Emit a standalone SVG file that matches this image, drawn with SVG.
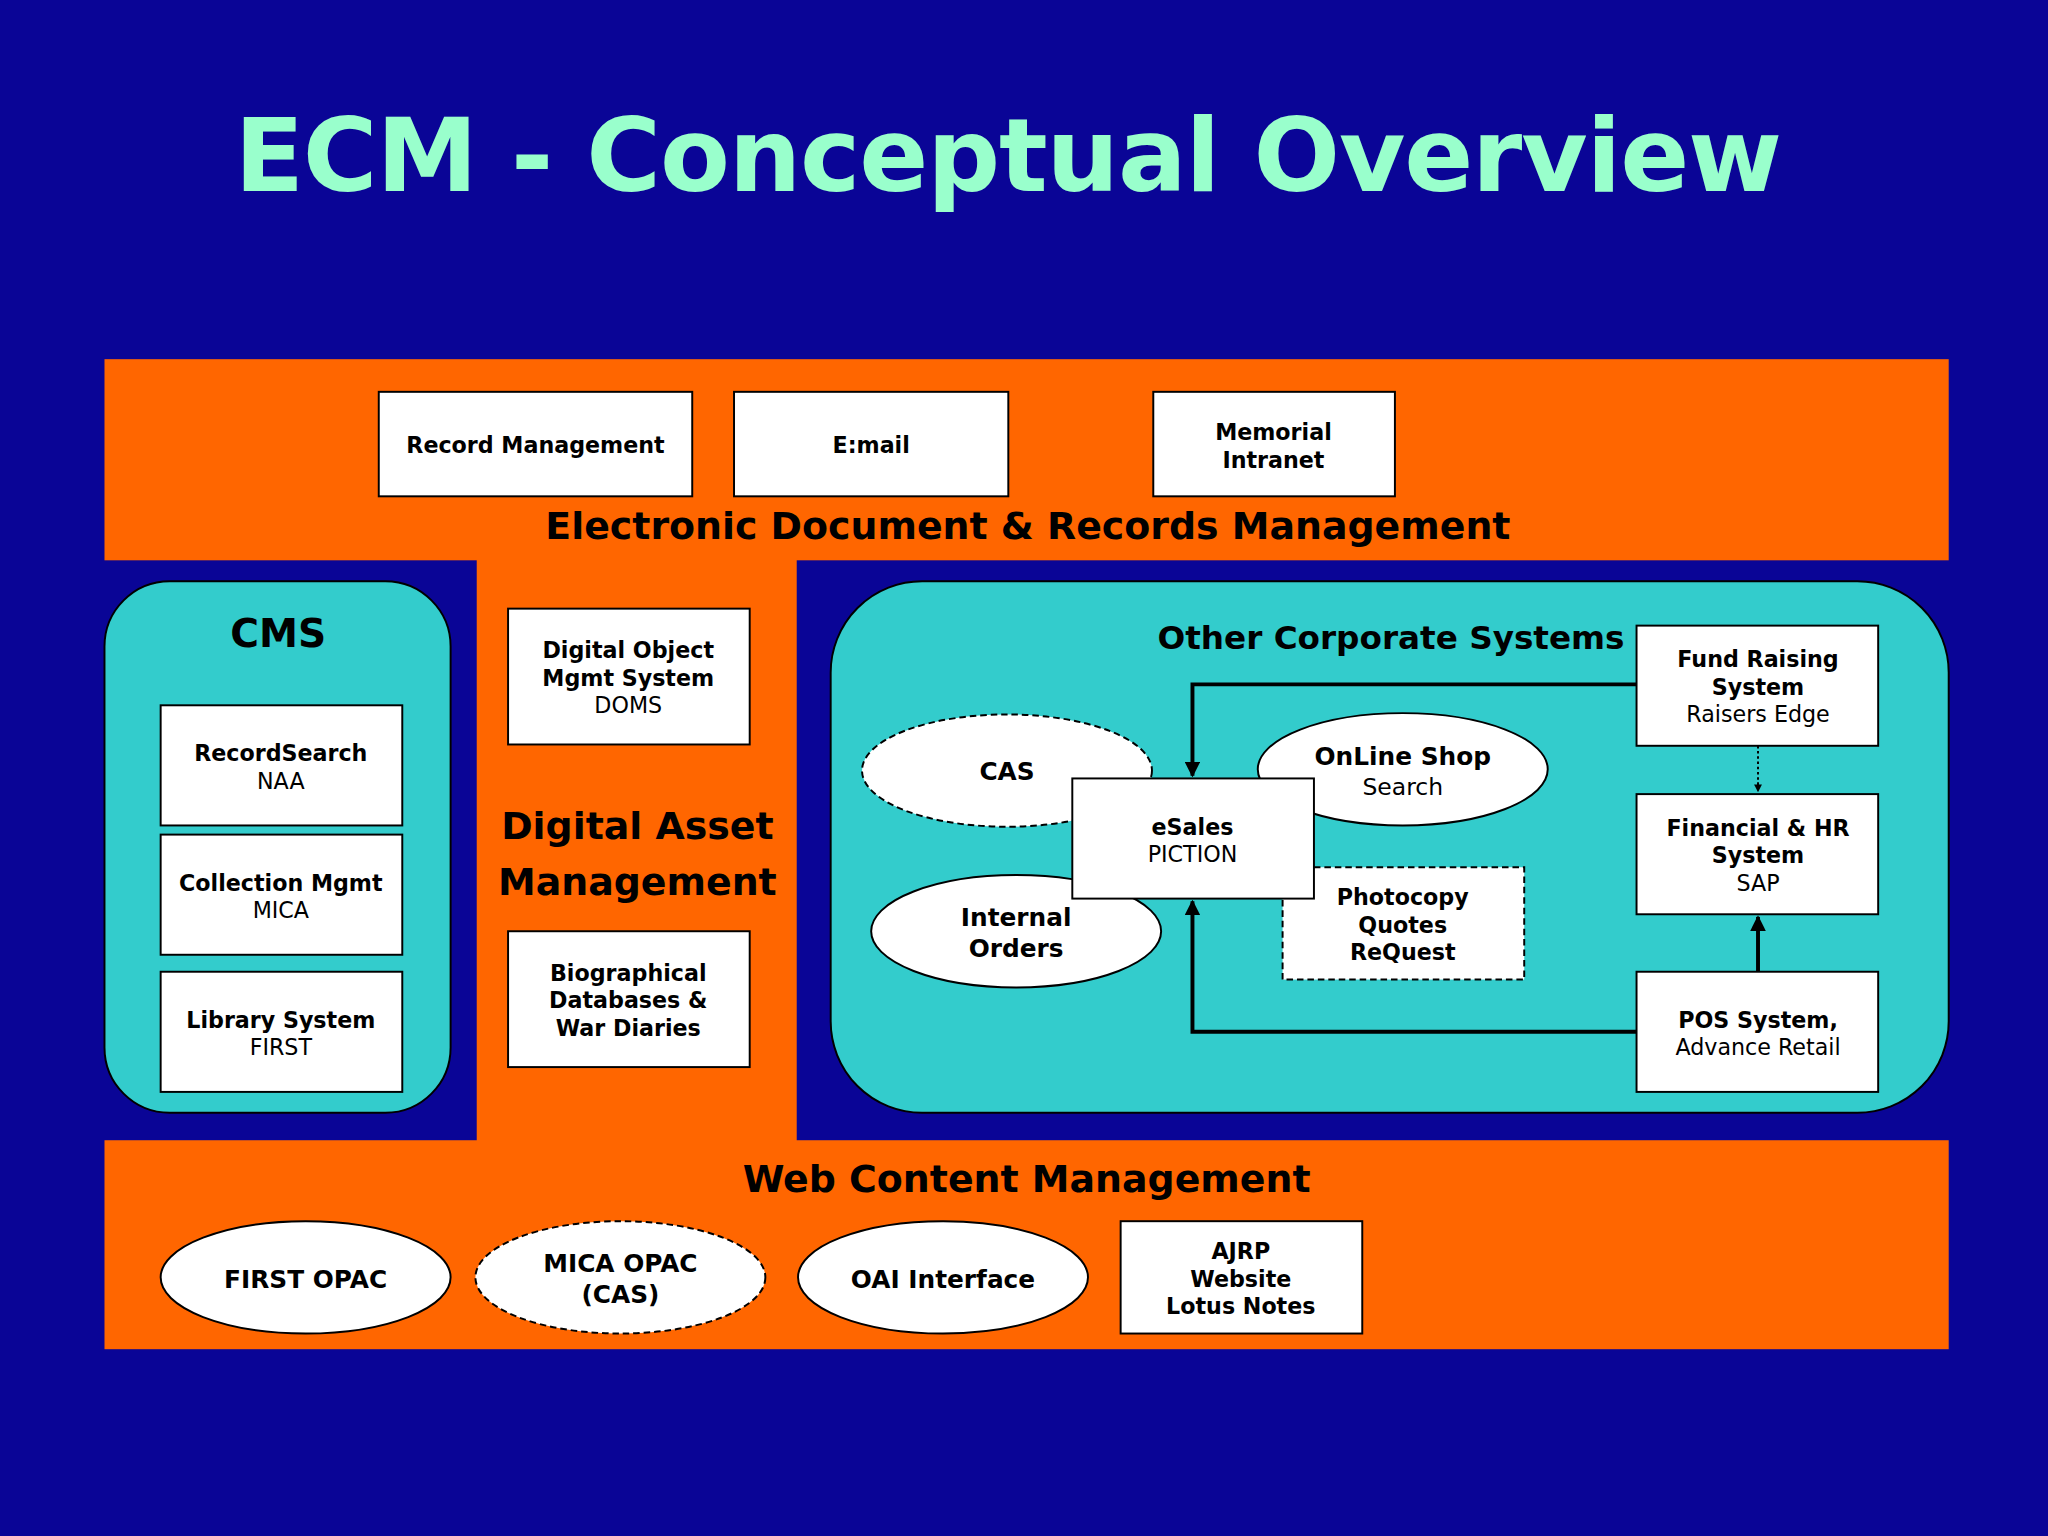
<svg xmlns="http://www.w3.org/2000/svg" width="2048" height="1536" viewBox="0 0 2048 1536">
<defs>
<style>
.t{font-family:"DejaVu Sans",Verdana,sans-serif;text-anchor:middle;fill:#000}
.b{font-weight:bold}
.box{fill:#fff;stroke:#000;stroke-width:1.5}
.dash{stroke-dasharray:5 3}
.ln{fill:none;stroke:#000;stroke-width:3}
.orng{fill:#ff6600}
.teal{fill:#33cccc;stroke:#000;stroke-width:1.5}
</style>
<marker id="ar" viewBox="0 0 10 10" refX="9" refY="5" markerWidth="4" markerHeight="4" orient="auto"><path d="M0,0L10,5L0,10z" fill="#000"/></marker>
</defs>
<rect width="2048" height="1536" fill="#0a0596"/>
<g transform="scale(1.3061)">
<text x="772" y="146" class="t b" style="fill:#99ffcc;font-size:78px" textLength="1185">ECM  - Conceptual Overview</text>
<rect class="orng" x="80" y="275" width="1412" height="154"/>
<rect class="orng" x="365" y="428" width="245" height="446"/>
<rect class="orng" x="80" y="873" width="1412" height="160"/>
<g id="edrm">
<text x="787" y="413" class="t b" font-size="29">Electronic Document &amp; Records Management</text>
</g>
<g id="recmgmt"><rect class="box" x="290" y="300" width="240" height="80"/><text x="410" y="347" class="t b" font-size="17">Record Management</text></g>
<g id="email"><rect class="box" x="562" y="300" width="210" height="80"/><text x="667" y="347" class="t b" font-size="17">E:mail</text></g>
<g id="memorial"><rect class="box" x="883" y="300" width="185" height="80"/><text x="975" y="337" class="t b" font-size="17">Memorial</text><text x="975" y="358" class="t b" font-size="17">Intranet</text></g>
<g id="cms"><rect class="teal" x="80" y="445" width="265" height="407" rx="50"/><text x="213" y="495" class="t b" font-size="30">CMS</text></g>
<g id="recsearch"><rect class="box" x="123" y="540" width="185" height="92"/><text x="215" y="583" class="t b" font-size="17">RecordSearch</text><text x="215" y="604" class="t" font-size="17">NAA</text></g>
<g id="collmgmt"><rect class="box" x="123" y="639" width="185" height="92"/><text x="215" y="682" class="t b" font-size="17">Collection Mgmt</text><text x="215" y="703" class="t" font-size="17">MICA</text></g>
<g id="library"><rect class="box" x="123" y="744" width="185" height="92"/><text x="215" y="787" class="t b" font-size="17">Library System</text><text x="215" y="808" class="t" font-size="17">FIRST</text></g>
<g id="dam"><text x="488" y="642" class="t b" font-size="29">Digital Asset</text><text x="488" y="685" class="t b" font-size="29">Management</text></g>
<g id="doms"><rect class="box" x="389" y="466" width="185" height="104"/><text x="481" y="504" class="t b" font-size="17">Digital Object</text><text x="481" y="525" class="t b" font-size="17">Mgmt System</text><text x="481" y="546" class="t" font-size="17">DOMS</text></g>
<g id="bio"><rect class="box" x="389" y="713" width="185" height="104"/><text x="481" y="751" class="t b" font-size="17">Biographical</text><text x="481" y="772" class="t b" font-size="17">Databases &amp;</text><text x="481" y="793" class="t b" font-size="17">War Diaries</text></g>
<g id="ocs"><rect class="teal" x="636" y="445" width="856" height="407" rx="70"/><text x="1065" y="497" class="t b" font-size="25">Other Corporate Systems</text></g>
<g id="connectors">
<polyline class="ln" points="1253,524 913,524 913,594" marker-end="url(#ar)"/>
<polyline class="ln" points="1253,790 913,790 913,690" marker-end="url(#ar)"/>
<line x1="1346" y1="571" x2="1346" y2="606" stroke="#000" stroke-width="1.5" stroke-dasharray="2 2" marker-end="url(#ar)"/>
<line class="ln" x1="1346" y1="744" x2="1346" y2="702" marker-end="url(#ar)"/>
</g>
<g id="cas"><ellipse class="box dash" cx="771" cy="590" rx="111" ry="43"/><text x="771" y="597" class="t b" font-size="19">CAS</text></g>
<g id="shop"><ellipse class="box" cx="1074" cy="589" rx="111" ry="43"/><text x="1074" y="586" class="t b" font-size="19">OnLine Shop</text><text x="1074" y="609" class="t" font-size="18">Search</text></g>
<g id="internal"><ellipse class="box" cx="778" cy="713" rx="111" ry="43"/><text x="778" y="709" class="t b" font-size="19">Internal</text><text x="778" y="733" class="t b" font-size="19">Orders</text></g>
<g id="photocopy"><rect class="box dash" x="982" y="664" width="185" height="86"/><text x="1074" y="693" class="t b" font-size="17">Photocopy</text><text x="1074" y="714" class="t b" font-size="17">Quotes</text><text x="1074" y="735" class="t b" font-size="17">ReQuest</text></g>
<g id="esales"><rect class="box" x="821" y="596" width="185" height="92"/><text x="913" y="639" class="t b" font-size="17">eSales</text><text x="913" y="660" class="t" font-size="17">PICTION</text></g>
<g id="fund"><rect class="box" x="1253" y="479" width="185" height="92"/><text x="1346" y="511" class="t b" font-size="17">Fund Raising</text><text x="1346" y="532" class="t b" font-size="17">System</text><text x="1346" y="553" class="t" font-size="17">Raisers Edge</text></g>
<g id="fin"><rect class="box" x="1253" y="608" width="185" height="92"/><text x="1346" y="640" class="t b" font-size="17">Financial &amp; HR</text><text x="1346" y="661" class="t b" font-size="17">System</text><text x="1346" y="682" class="t" font-size="17">SAP</text></g>
<g id="pos"><rect class="box" x="1253" y="744" width="185" height="92"/><text x="1346" y="787" class="t b" font-size="17">POS System,</text><text x="1346" y="808" class="t" font-size="17">Advance Retail</text></g>
<g id="wcm"><text x="786" y="913" class="t b" font-size="29">Web Content Management</text></g>
<g id="firstopac"><ellipse class="box" cx="234" cy="978" rx="111" ry="43"/><text x="234" y="986" class="t b" font-size="19">FIRST OPAC</text></g>
<g id="micaopac"><ellipse class="box dash" cx="475" cy="978" rx="111" ry="43"/><text x="475" y="974" class="t b" font-size="19">MICA OPAC</text><text x="475" y="998" class="t b" font-size="19">(CAS)</text></g>
<g id="oai"><ellipse class="box" cx="722" cy="978" rx="111" ry="43"/><text x="722" y="986" class="t b" font-size="19">OAI Interface</text></g>
<g id="ajrp"><rect class="box" x="858" y="935" width="185" height="86"/><text x="950" y="964" class="t b" font-size="17">AJRP</text><text x="950" y="985" class="t b" font-size="17">Website</text><text x="950" y="1006" class="t b" font-size="17">Lotus Notes</text></g>
</g>
</svg>
